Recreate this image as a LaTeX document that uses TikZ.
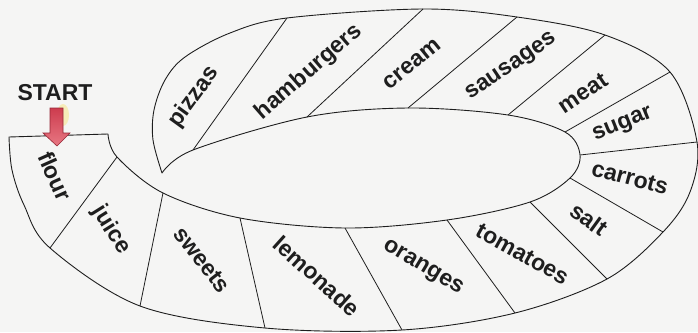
\documentclass[tikz,border=0pt]{standalone}
\usepackage{fontspec}
\setmainfont{Liberation Sans}
\definecolor{bg}{RGB}{245,245,244}
\definecolor{ink}{RGB}{30,30,30}
\definecolor{arrowfill}{RGB}{226,86,100}
\definecolor{arrowtop}{RGB}{205,60,78}
\definecolor{arrowline}{RGB}{150,40,55}
\tikzset{
  board/.style={draw=ink, line width=0.9pt, line join=round},
  divider/.style={draw=ink, line width=0.8pt},
  lbl/.style={font=\bfseries\fontsize{23}{23}\selectfont, text=ink, inner sep=0pt},
  startlbl/.style={font=\bfseries\fontsize{23}{23}\selectfont, text=ink, inner sep=0pt}
}
\begin{document}
\begin{tikzpicture}[x=1pt,y=-1pt]
\fill[bg] (0,0) rectangle (698,332);
\useasboundingbox (0,0) rectangle (698,332);
% inner ends of dividers
\coordinate (i1) at (117,157);
\coordinate (i2) at (163,193);
\coordinate (i3) at (240,218);
\coordinate (i4) at (345,228);
\coordinate (i5) at (447,220);
\coordinate (i6) at (530,202);
\coordinate (i7) at (570,178);
\coordinate (i8) at (580,155);
\coordinate (i9) at (565,132);
\coordinate (i10) at (508,115);
\coordinate (i11) at (408,108);
\coordinate (i12) at (307,117);
\coordinate (i13) at (193,150);
% outer ends of dividers
\coordinate (o1) at (50,248);
\coordinate (o2) at (140,306);
\coordinate (o3) at (265,328);
\coordinate (o4) at (402,330);
\coordinate (o5) at (515,313);
\coordinate (o6) at (607,279);
\coordinate (o7) at (663,232);
\coordinate (o8) at (697,142);
\coordinate (o9) at (670,72);
\coordinate (o10) at (605,35);
\coordinate (o11) at (517,17);
\coordinate (o12) at (423,9);
\coordinate (o13) at (287,18);
% board outline
\draw[board] (9,137) -- (108,134)
  -- plot[smooth, tension=0.55] coordinates {(108,134) (117,157) (163,193) (240,218) (345,228) (447,220) (530,202) (570,178) (580,155) (565,132) (508,115) (408,108) (307,117) (193,150) (162,173)}
  -- plot[smooth, tension=0.55] coordinates {(162,173) (153,140) (154,110) (165,80) (185,57) (230,33) (287,18) (423,9) (517,17) (605,35) (670,72) (697,142) (690,192) (663,232) (607,279) (515,313) (402,330) (265,328) (140,306) (50,248) (24,205) (12,170) (9,137)}
  -- cycle;
% dividers
\foreach \k in {1,...,13} { \draw[divider] (i\k) -- (o\k); }
% labels
\node[lbl, rotate=-66] (flour) at (55,176) {flour};
\node[lbl, rotate=-58] (juice) at (111,230) {juice};
\node[lbl, rotate=-52] (sweets) at (202,260) {sweets};
\node[lbl, rotate=-42] (lemonade) at (317,276) {lemonade};
\node[lbl, rotate=-31] (oranges) at (423,268) {oranges};
\node[lbl, rotate=-29] (tomatoes) at (523,254) {tomatoes};
\node[lbl, rotate=-36] (salt) at (589,219) {salt};
\node[lbl, rotate=-15] (carrots) at (630,178) {carrots};
\node[lbl, rotate=22] (sugar) at (623,125) {sugar};
\node[lbl, rotate=34] (meat) at (583,93) {meat};
\node[lbl, rotate=34] (sausages) at (512,67) {sausages};
\node[lbl, rotate=39] (cream) at (412,64) {cream};
\node[lbl, rotate=41] (hamburgers) at (309,72) {hamburgers};
\node[lbl, rotate=54] (pizzas) at (194,97) {pizzas};
% START
\node[startlbl] (start) at (55,93) {START};
\fill[yellow!70!orange, opacity=0.25] (63,115) ellipse (6pt and 11pt);
\draw[arrowline, line width=0.6pt, top color=arrowtop, bottom color=arrowfill!80!white]
  (50,108) -- (63,108) -- (63,133) -- (70,133) -- (57,146) -- (43,133) -- (50,133) -- cycle;
\end{tikzpicture}
\end{document}
